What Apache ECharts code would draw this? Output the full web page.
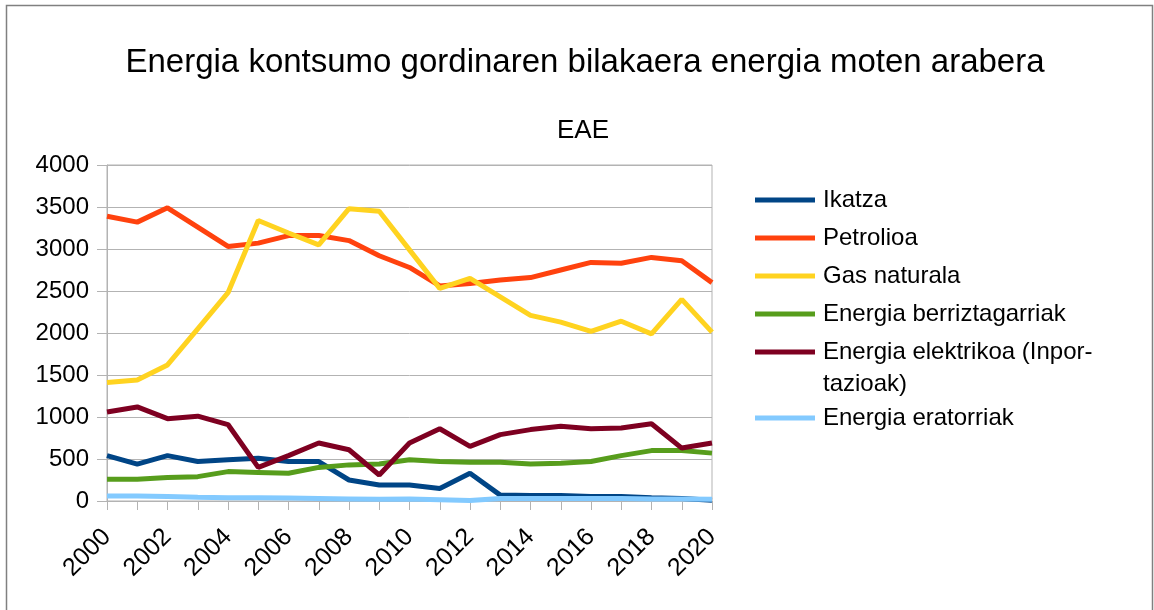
<!DOCTYPE html>
<html>
<head>
<meta charset="utf-8">
<script src="https://cdn.jsdelivr.net/npm/echarts@6/dist/echarts.min.js"></script>
<style>
  html, body { margin: 0; padding: 0; background: #fff; }
  #main { width: 1154px; height: 610px; }
</style>
</head>
<body>
<div id="main"></div>
<script>
// urteak
const years = ['2000', '2001', '2002', '2003', '2004', '2005', '2006', '2007', '2008', '2009', '2010',
  '2011', '2012', '2013', '2014', '2015', '2016', '2017', '2018', '2019', '2020'];

// balioak (irudian irakurritakoak)
const ikatza = [540, 440, 540, 470, 490, 510, 470, 470, 250, 190, 190, 150, 330, 70, 65, 65, 55, 55, 40, 30, 10];
const petrolioa = [3390, 3320, 3490, 3260, 3030, 3070, 3160, 3160, 3100, 2920, 2780, 2560, 2590, 2630, 2660, 2750, 2840, 2830, 2900, 2860, 2600];
const gasNaturala = [1410, 1440, 1620, 2050, 2480, 3340, 3190, 3050, 3480, 3450, 2990, 2530, 2650, 2430, 2210, 2130, 2020, 2140, 1990, 2400, 2010];
const berriztagarriak = [260, 260, 280, 290, 350, 340, 330, 400, 430, 440, 490, 470, 460, 460, 440, 450, 470, 540, 600, 600, 570];
const elektrikoa = [1060, 1120, 980, 1010, 910, 400, 540, 690, 610, 310, 690, 860, 650, 790, 850, 890, 860, 870, 920, 630, 690];
const eratorriak = [60, 60, 55, 45, 40, 40, 35, 30, 25, 20, 25, 15, 5, 30, 30, 30, 30, 30, 25, 25, 20];

const yTicks = { min: 0, max: 4000, interval: 500 };

const FONT = 'Liberation Sans';
const ELEK = 'Energia elektrikoa (Inportazioak)';

function mkSeries(name, data, color) {
  return {
    name: name,
    type: 'line',
    data: data,
    showSymbol: false,
    symbol: 'none',
    color: color,
    lineStyle: { width: 5, color: color },
    animation: false
  };
}

let myChart = echarts.init(document.getElementById('main'));
let option = {
  backgroundColor: '#fff',
  textStyle: { fontFamily: FONT },
  title: [
    {
      text: 'Energia kontsumo gordinaren bilakaera energia moten arabera',
      left: 585,
      textAlign: 'center',
      top: 46,
      padding: 0,
      textStyle: { fontFamily: FONT, fontSize: 33, fontWeight: 'normal', color: '#000' }
    },
    {
      text: 'EAE',
      left: 583,
      textAlign: 'center',
      top: 118,
      padding: 0,
      textStyle: { fontFamily: FONT, fontSize: 26, fontWeight: 'normal', color: '#000' }
    }
  ],
  legend: [
    {
      data: ['Ikatza', 'Petrolioa', 'Gas naturala', 'Energia berriztagarriak', ELEK],
      orient: 'vertical',
      left: 755,
      top: 188,
      padding: 0,
      itemGap: 14,
      itemWidth: 60,
      itemHeight: 5,
      icon: 'rect',
      selectedMode: false,
      formatter: function(name) {
        return name === ELEK ? 'Energia elektrikoa (Inpor-' : name;
      },
      textStyle: { fontFamily: FONT, fontSize: 24, lineHeight: 24, color: '#000', padding: [0, 0, 0, 3] }
    },
    {
      data: ['Energia eratorriak'],
      orient: 'vertical',
      left: 755,
      top: 406,
      padding: 0,
      itemWidth: 60,
      itemHeight: 5,
      icon: 'rect',
      selectedMode: false,
      textStyle: { fontFamily: FONT, fontSize: 24, lineHeight: 24, color: '#000', padding: [0, 0, 0, 3] }
    }
  ],
  graphic: [
    {
      type: 'rect',
      shape: { x: 6.5, y: 5.5, width: 1146, height: 700 },
      style: { fill: 'none', stroke: '#808080', lineWidth: 1.5 },
      silent: true
    },
    {
      type: 'text',
      left: 823,
      top: 372,
      style: { text: 'tazioak)', font: '24px "Liberation Sans"', fill: '#000' },
      silent: true
    }
  ],
  grid: {
    left: 107,
    right: 442,
    top: 165,
    bottom: 109,
    show: true,
    borderColor: '#b3b3b3',
    borderWidth: 1,
    backgroundColor: 'transparent'
  },
  xAxis: {
    type: 'category',
    data: years,
    boundaryGap: false,
    axisLine: { lineStyle: { color: '#b3b3b3', width: 1 } },
    axisTick: { show: true, interval: 0, length: 9, lineStyle: { color: '#b3b3b3' } },
    axisLabel: {
      interval: 1,
      rotate: 45,
      margin: 32,
      fontFamily: FONT,
      fontSize: 25,
      color: '#000',
      padding: [0, 0, 0, 0]
    },
    splitLine: { show: false }
  },
  yAxis: {
    type: 'value',
    min: yTicks.min,
    max: yTicks.max,
    interval: yTicks.interval,
    axisLine: { show: true, lineStyle: { color: '#b3b3b3', width: 1 } },
    axisTick: { show: true, length: 10, lineStyle: { color: '#b3b3b3' } },
    axisLabel: {
      margin: 18,
      fontFamily: FONT,
      fontSize: 24,
      color: '#000',
      formatter: function(v) { return String(v); }
    },
    splitLine: { show: true, lineStyle: { color: '#b3b3b3', width: 1 } }
  },
  series: [
    mkSeries('Ikatza', ikatza, '#004586'),
    mkSeries('Petrolioa', petrolioa, '#ff420e'),
    mkSeries('Gas naturala', gasNaturala, '#ffd320'),
    mkSeries('Energia berriztagarriak', berriztagarriak, '#579d1c'),
    mkSeries(ELEK, elektrikoa, '#7e0021'),
    mkSeries('Energia eratorriak', eratorriak, '#83caff')
  ]
};
myChart.setOption(option);
</script>
</body>
</html>
